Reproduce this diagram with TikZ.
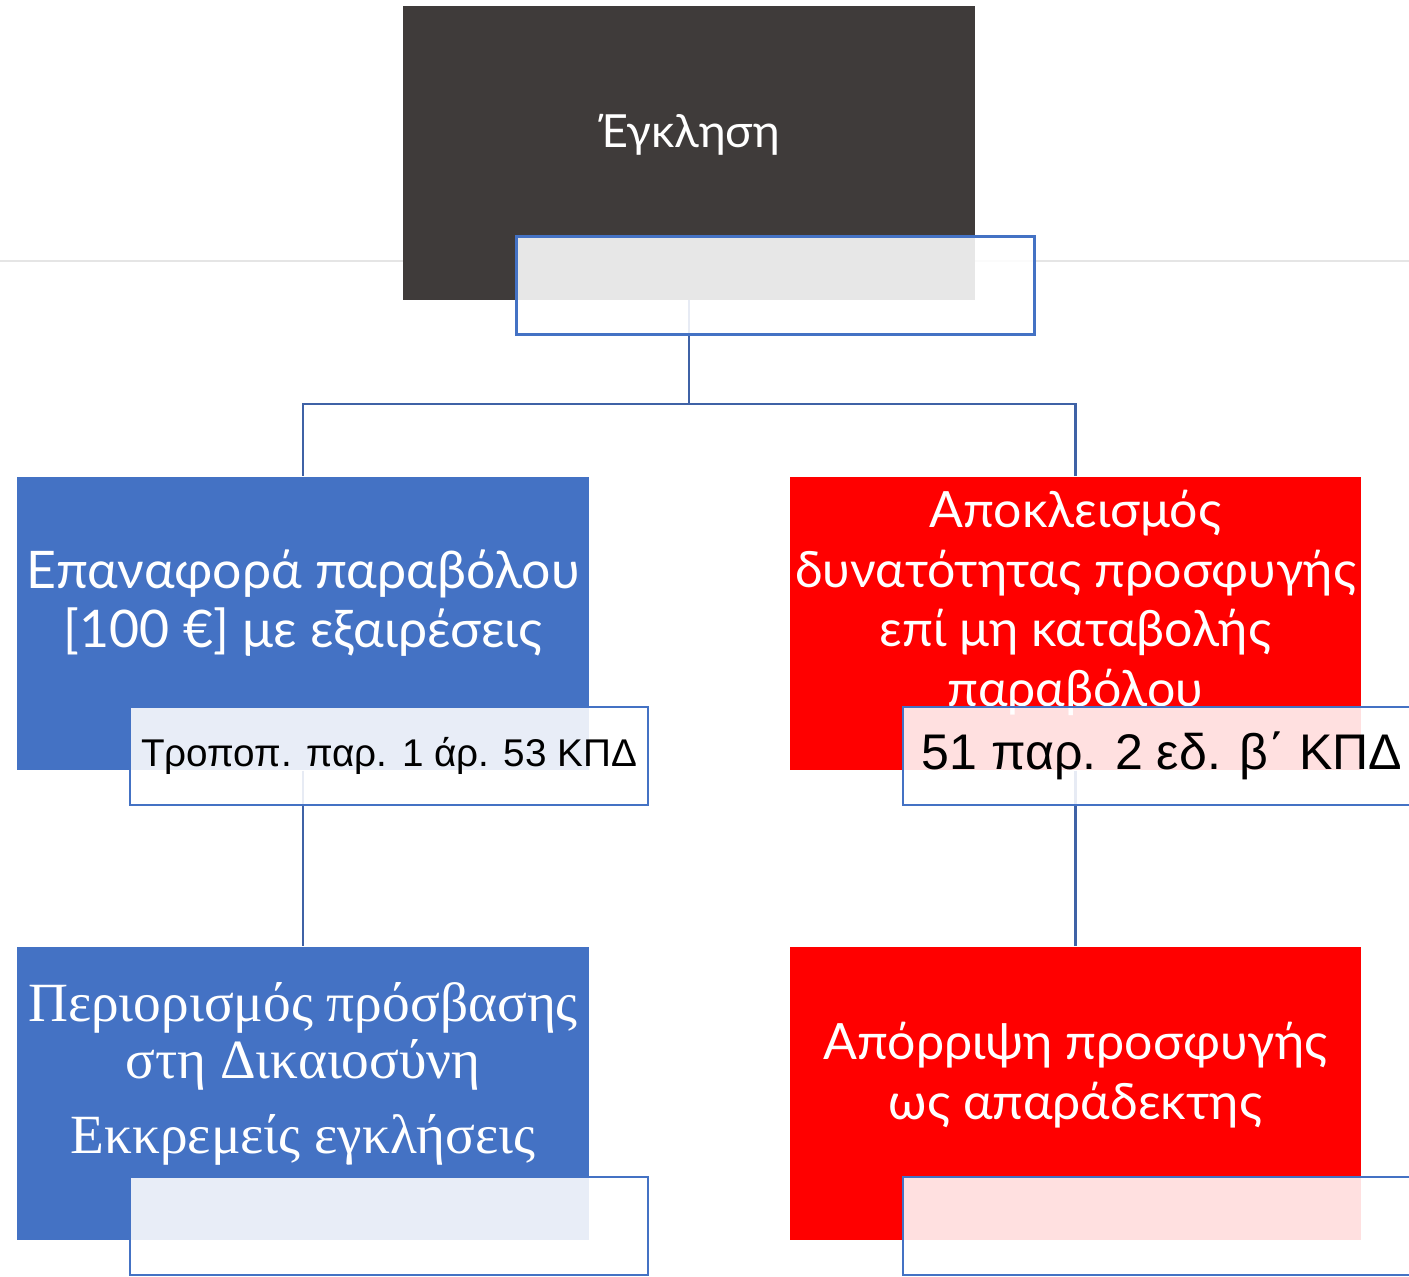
\documentclass[tikz,border=0pt]{standalone}
\usepackage{fontspec}
\setmainfont{Lato}
\newfontfamily\tagfont{Liberation Sans}
\newfontfamily\bookfont{Liberation Serif}
\definecolor{boxblue}{HTML}{4472C4}
\definecolor{boxred}{HTML}{FF0000}
\definecolor{boxdark}{HTML}{3F3B3A}
\definecolor{connblue}{HTML}{3F62A6}
\tikzset{
  mainbox/.style={minimum width=11.44cm, minimum height=5.87cm, inner sep=0pt},
  tagbox/.style={draw=boxblue, line width=1.3pt, fill=white, fill opacity=0.88, text opacity=1,
    minimum width=10.36cm, minimum height=1.96cm, inner sep=0pt},
  conn/.style={draw=connblue, line width=1.6pt},
  boxtext/.style={text=white, align=center, font=\fontsize{28.5}{34}\selectfont},
}
\begin{document}
\begin{tikzpicture}[x=0.02cm, y=-0.02cm]
    \useasboundingbox (0,0) rectangle (1409,1277);
    % faint rule behind the title
    \draw[black!10, line width=1.5pt] (0,261) -- (1409,261);

    \node[mainbox, fill=boxdark] (claim) at (689,153) {};
    \node[boxtext, font=\fontsize{26}{34}\selectfont] (claimtxt) at (689,135) {Έγκληση};

    \node[mainbox, fill=boxblue] (refund) at (303,623.5) {};
    \node[boxtext, font=\fontsize{29.5}{34}\selectfont] (refundtxt) at (303,603) {Επαναφορά παραβόλου\\{}[100 €] με εξαιρέσεις};

    \node[mainbox, fill=boxred] (exclusion) at (1075.5,623.5) {};
    \node[boxtext] (exclusiontxt) at (1075.5,603) {Αποκλεισμός\\δυνατότητας προσφυγής\\επί μη καταβολής\\παραβόλου};

    \node[mainbox, fill=boxblue] (access) at (303,1093.5) {};
    \node[boxtext, font=\bookfont\fontsize{31.5}{32.5}\selectfont] (accesstxt) at (303,1074)
        {Περιορισμός πρόσβασης\\στη Δικαιοσύνη\\[10pt]Εκκρεμείς εγκλήσεις};

    \node[mainbox, fill=boxred] (reject) at (1075.5,1093.5) {};
    \node[boxtext] (rejecttxt) at (1075.5,1075) {Απόρριψη προσφυγής\\ως απαράδεκτης};

    % connectors
    \coordinate (fork) at (689,404);
    \draw[conn] (claim.south) -- (fork) -| (refund.north);
    \draw[conn] (fork) -| (exclusion.north);
    \draw[conn] (refund.south) -- (access.north);
    \draw[conn] (exclusion.south) -- (reject.north);

    % article tags
    \node[tagbox] (claimtag) at (775.5,285.5) {};
    \node[tagbox, font=\tagfont\fontsize{22}{26}\selectfont] (refundtag) at (389,756) {Τροποπ. παρ. 1 άρ. 53 ΚΠΔ};
    \node[tagbox, font=\tagfont\fontsize{28.5}{34}\selectfont] (exclusiontag) at (1162,756) {51 παρ. 2 εδ. β΄ ΚΠΔ};
    \node[tagbox] (accesstag) at (389,1226) {};
    \node[tagbox] (rejecttag) at (1162,1226) {};
\end{tikzpicture}
\end{document}
